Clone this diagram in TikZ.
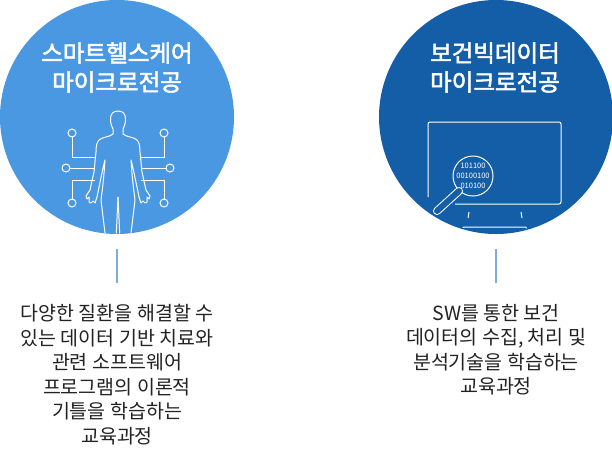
\documentclass[tikz,border=0pt]{standalone}
\usepackage{fontspec}
\setmainfont{Noto Sans CJK KR}
\newfontfamily\titlefont[FakeBold=2.2]{Noto Sans CJK KR}
\usepackage{xcolor}
\usetikzlibrary{arrows.meta}

\definecolor{smartblue}{HTML}{4A97E2}
\definecolor{datablue}{HTML}{145EA8}
\definecolor{linkblue}{HTML}{80AAD8}
\definecolor{desctext}{HTML}{222222}

\tikzset{
  major/.style={circle, minimum size=234pt, inner sep=0pt},
  title/.style={text=white, align=center, inner sep=0pt, font=\fontsize{23.5}{29}\titlefont},
  desc/.style={align=center, inner sep=0pt, text=desctext, font=\fontsize{19.5}{24.5}\selectfont},
  link/.style={linkblue, line width=1.5pt, shorten <=15pt, shorten >=21pt},
  icon/.style={white, line width=1pt},
  bits/.style={text=white, inner sep=0pt, font=\fontsize{7.5}{7.5}\selectfont},
}

\begin{document}
\begin{tikzpicture}[x=1pt, y=-1pt]
    \useasboundingbox (0,0) rectangle (612,453);

    \node[major, fill=smartblue] (smart) at (117,117) {};
    \node[major, fill=datablue] (data) at (496,117) {};

    \node[title] (smarttitle) at (117,67.5) {스마트헬스케어\\마이크로전공};
    \node[title] (datatitle) at (495,67.5) {보건빅데이터\\마이크로전공};

    % body with circuit lines
    \begin{scope}
    \clip (117,117) circle (116.5pt);
    \foreach \side in {1,-1} {
      \begin{scope}[shift={(118,0)}, xscale=\side]
        \draw[icon] (-46,133) circle (4pt);
        \draw[icon] (-46,137) -- (-46,157) -- (-23,157);
        \draw[icon] (-52,168) circle (4pt);
        \draw[icon] (-48,168) -- (-23,168);
        \draw[icon] (-46,203) circle (4pt);
        \draw[icon] (-46,199) -- (-46,180) -- (-23,180);
        \fill[smartblue] (-23,150) rectangle (-12,190);
        \draw[icon, line join=round] (0,111) .. controls (-5,111) and (-7.5,114) .. (-7.5,119)
          .. controls (-7.5,124) and (-6,127) .. (-5,129) -- (-5,134)
          .. controls (-8,137) and (-16,137) .. (-19,140)
          .. controls (-21,142) and (-22,146) .. (-22,152)
          -- (-24,172) -- (-28,190) -- (-32,196) -- (-31,199) -- (-29,197)
          -- (-29,202) -- (-27,203) -- (-25,201) -- (-23,203) -- (-21,197) -- (-20,192)
          -- (-15,168) -- (-13,160)
          .. controls (-14,175) and (-15,185) .. (-17,200)
          -- (-14,225) -- (-12,240);
        \draw[icon] (0,197) -- (-2,240);
      \end{scope}
    }
    \end{scope}

    % monitor with magnifier
    \begin{scope}
    \clip (496,117) circle (115.5pt);
    \draw[icon, rounded corners=2pt] (455,204) -- (561,204) -- (561,122) -- (428,122) -- (428,197);
    \draw[icon] (473,176) circle (20pt);
    \node[bits] (bitsa) at (473,166) {101100};
    \node[bits] (bitsb) at (473,176) {00100100};
    \node[bits] (bitsc) at (473,186) {010100};
    \draw[white, line width=8pt, line cap=round] (459,191) -- (437,211);
    \draw[datablue, line width=6pt, line cap=round] (459,191) -- (437,211);
    \draw[icon] (469,212) -- (468,218);
    \draw[icon] (521,212) -- (522,218);
    \draw[icon, rounded corners=1.5pt] (462,240) -- (462,227) -- (527,227) -- (527,240);
    \end{scope}

    \node[desc, anchor=north] (smartdesc) at (117,304) {다양한 질환을 해결할 수\\있는 데이터 기반 치료와\\관련 소프트웨어\\프로그램의 이론적\\기틀을 학습하는\\교육과정};
    \node[desc, anchor=north] (datadesc) at (496,304) {SW를 통한 보건\\데이터의 수집, 처리 및\\분석기술을 학습하는\\교육과정};

    \draw[link] (smart) -- (smart |- smartdesc.north);
    \draw[link] (data) -- (data |- datadesc.north);
\end{tikzpicture}
\end{document}
